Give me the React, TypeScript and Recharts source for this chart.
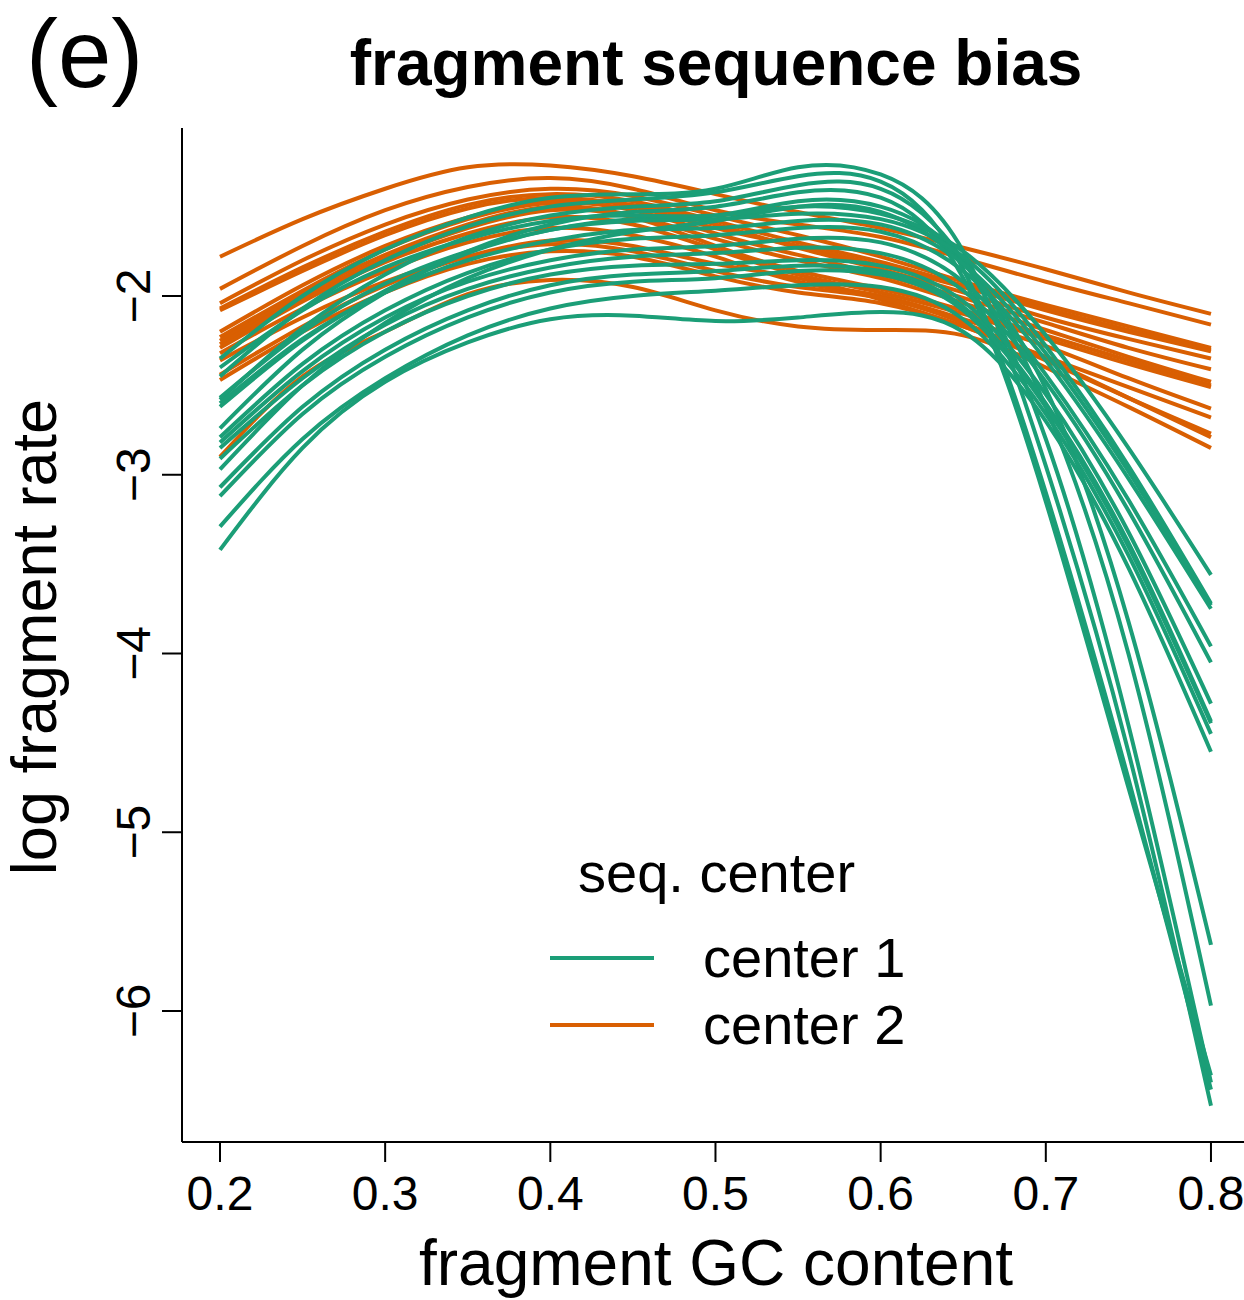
import { Line, LineChart, XAxis, YAxis } from "recharts";

const gcContent = [0.2, 0.25, 0.3, 0.35, 0.4, 0.45, 0.5, 0.55, 0.6, 0.65, 0.7, 0.75, 0.8];
const xTicks = [0.2, 0.3, 0.4, 0.5, 0.6, 0.7, 0.8];
const yTicks = [-6, -5, -4, -3, -2];

const centerNames = ["center 1", "center 2"];
const centerColors = ["#1b9e77", "#d95f02"];

// center 1: log fragment rate per sample, read at gcContent
const center1Curves = [
  [-2.35, -2.0, -1.74, -1.56, -1.45, -1.43, -1.4, -1.28, -1.32, -1.75, -2.95, -4.55, -6.53],
  [-2.45, -2.07, -1.8, -1.61, -1.5, -1.46, -1.42, -1.33, -1.36, -1.85, -3.1, -4.7, -6.44],
  [-2.58, -2.18, -1.88, -1.67, -1.55, -1.5, -1.47, -1.38, -1.4, -1.8, -2.8, -4.4, -6.4],
  [-2.74, -2.3, -1.98, -1.75, -1.6, -1.53, -1.5, -1.42, -1.45, -1.9, -3.15, -4.75, -6.36],
  [-2.62, -2.25, -1.97, -1.76, -1.63, -1.57, -1.55, -1.47, -1.5, -1.8, -2.62, -4.0, -5.97],
  [-2.97, -2.5, -2.15, -1.9, -1.74, -1.64, -1.58, -1.5, -1.53, -1.82, -2.52, -3.82, -5.63],
  [-2.4, -2.08, -1.84, -1.68, -1.58, -1.55, -1.55, -1.5, -1.54, -1.75, -2.22, -2.85, -3.56],
  [-2.57, -2.2, -1.93, -1.75, -1.63, -1.58, -1.57, -1.54, -1.57, -1.78, -2.28, -2.95, -3.72],
  [-2.6, -2.24, -1.98, -1.8, -1.69, -1.63, -1.62, -1.58, -1.6, -1.82, -2.32, -2.98, -3.73],
  [-2.79, -2.38, -2.08, -1.87, -1.74, -1.68, -1.66, -1.62, -1.64, -1.86, -2.36, -3.02, -3.75],
  [-2.82, -2.42, -2.12, -1.92, -1.8, -1.74, -1.72, -1.68, -1.7, -1.92, -2.44, -3.14, -3.96],
  [-2.85, -2.46, -2.16, -1.96, -1.84, -1.78, -1.76, -1.73, -1.76, -1.97, -2.48, -3.2, -4.05],
  [-2.91, -2.5, -2.2, -2.0, -1.88, -1.83, -1.82, -1.8, -1.83, -2.03, -2.55, -3.32, -4.28],
  [-3.07, -2.62, -2.3, -2.08, -1.94, -1.88, -1.86, -1.83, -1.86, -2.06, -2.6, -3.38, -4.38],
  [-3.12, -2.66, -2.34, -2.12, -1.98, -1.92, -1.9, -1.86, -1.88, -2.08, -2.62, -3.4, -4.39],
  [-3.29, -2.8, -2.46, -2.22, -2.07, -2.0, -1.97, -1.94, -1.95, -2.13, -2.66, -3.45, -4.45],
  [-3.42, -2.85, -2.48, -2.26, -2.13, -2.11, -2.14, -2.12, -2.09, -2.2, -2.7, -3.52, -4.55],
];

// center 2
const center2Curves = [
  [-1.78, -1.57, -1.4, -1.28, -1.27, -1.33, -1.43, -1.53, -1.62, -1.73, -1.85, -1.98, -2.1],
  [-1.96, -1.72, -1.52, -1.39, -1.34, -1.4, -1.52, -1.6, -1.67, -1.79, -1.92, -2.04, -2.16],
  [-2.04, -1.8, -1.6, -1.46, -1.4, -1.44, -1.55, -1.66, -1.78, -1.92, -2.05, -2.17, -2.29],
  [-2.07, -1.84, -1.64, -1.49, -1.43, -1.47, -1.58, -1.7, -1.81, -1.94, -2.07, -2.19, -2.3],
  [-2.08, -1.86, -1.66, -1.51, -1.45, -1.5, -1.62, -1.72, -1.83, -1.95, -2.08, -2.2, -2.31],
  [-2.2, -1.94, -1.72, -1.56, -1.47, -1.49, -1.6, -1.73, -1.85, -1.98, -2.12, -2.24, -2.35],
  [-2.23, -1.97, -1.74, -1.57, -1.48, -1.52, -1.65, -1.77, -1.88, -2.01, -2.15, -2.29, -2.41],
  [-2.25, -1.99, -1.77, -1.6, -1.5, -1.55, -1.68, -1.8, -1.9, -2.04, -2.19, -2.34, -2.48],
  [-2.27, -2.01, -1.79, -1.62, -1.52, -1.56, -1.72, -1.86, -1.96, -2.08, -2.22, -2.36, -2.5],
  [-2.29, -2.03, -1.81, -1.65, -1.56, -1.6, -1.74, -1.88, -1.98, -2.1, -2.24, -2.38, -2.51],
  [-2.32, -2.07, -1.86, -1.7, -1.62, -1.66, -1.78, -1.92, -2.0, -2.13, -2.28, -2.46, -2.63],
  [-2.44, -2.17, -1.94, -1.78, -1.69, -1.72, -1.82, -1.9, -2.02, -2.17, -2.34, -2.51, -2.68],
  [-2.47, -2.2, -1.98, -1.82, -1.75, -1.78, -1.89, -1.98, -2.04, -2.17, -2.36, -2.57, -2.77],
  [-2.36, -2.12, -1.92, -1.78, -1.71, -1.75, -1.86, -1.95, -2.01, -2.15, -2.35, -2.57, -2.79],
  [-2.9, -2.45, -2.2, -1.99, -1.91, -1.95, -2.08, -2.17, -2.19, -2.22, -2.4, -2.62, -2.85],
];

const font = "'Liberation Sans', Arial, Helvetica, sans-serif";

const rows = gcContent.map((gc, i) => {
  const row: Record<string, number> = { gc };
  center1Curves.forEach((c, j) => (row[`c1_${j}`] = c[i]));
  center2Curves.forEach((c, j) => (row[`c2_${j}`] = c[i]));
  return row;
});

const minus = (v: number) => String(v).replace("-", "\u2212");

function XTick({ x, y, payload }: any) {
  return (
    <text x={x} y={y + 46} textAnchor="middle" fontSize={48} fontFamily={font} fill="#000">
      {payload.value}
    </text>
  );
}

function YTick({ x, y, payload }: any) {
  const bx = x - 10;
  return (
    <text x={bx} y={y} transform={`rotate(-90, ${bx}, ${y})`} textAnchor="middle" fontSize={48} fontFamily={font} fill="#000">
      {minus(payload.value)}
    </text>
  );
}

export default function App() {
  return (
    <div style={{ position: "absolute", left: 0, top: 0, width: 1244, height: 1300, background: "#fff", fontFamily: font }}>
      <LineChart width={1244} height={1300} data={rows} margin={{ top: 128, right: 0, bottom: 98, left: 122 }}>
        <XAxis
          dataKey="gc"
          type="number"
          domain={[0.177, 0.82]}
          ticks={xTicks}
          allowDataOverflow
          height={60}
          tickSize={20}
          tick={<XTick />}
          axisLine={{ stroke: "#000", strokeWidth: 2 }}
          tickLine={{ stroke: "#000", strokeWidth: 2 }}
        />
        <YAxis
          type="number"
          domain={[-6.733, -1.06]}
          ticks={yTicks}
          allowDataOverflow
          width={60}
          tickSize={20}
          tick={<YTick />}
          axisLine={{ stroke: "#000", strokeWidth: 2 }}
          tickLine={{ stroke: "#000", strokeWidth: 2 }}
        />
        {center2Curves.map((_, j) => (
          <Line key={`c2_${j}`} dataKey={`c2_${j}`} type="natural" stroke={centerColors[1]} strokeWidth={4} dot={false} isAnimationActive={false} />
        ))}
        {center1Curves.map((_, j) => (
          <Line key={`c1_${j}`} dataKey={`c1_${j}`} type="natural" stroke={centerColors[0]} strokeWidth={4} dot={false} isAnimationActive={false} />
        ))}
      </LineChart>
      <svg width={1244} height={1300} style={{ position: "absolute", left: 0, top: 0, pointerEvents: "none" }}>
        <text x={26} y={87} fontSize={96} fontFamily={font} fill="#000">(e)</text>
        <text x={716} y={85} fontSize={64} fontWeight="bold" fontFamily={font} textAnchor="middle" fill="#000">
          fragment sequence bias
        </text>
        <text x={716} y={1285} fontSize={64} fontFamily={font} textAnchor="middle" fill="#000">
          fragment GC content
        </text>
        <text x={56} y={637} fontSize={63} fontFamily={font} textAnchor="middle" transform="rotate(-90, 56, 637)" fill="#000">
          log fragment rate
        </text>
        <text x={578} y={892} fontSize={56} fontFamily={font} fill="#000">seq. center</text>
        {centerNames.map((name, i) => (
          <g key={name}>
            <line x1={550} x2={654} y1={958 + i * 67} y2={958 + i * 67} stroke={centerColors[i]} strokeWidth={4} />
            <text x={703} y={977 + i * 67} fontSize={56} fontFamily={font} fill="#000">{name}</text>
          </g>
        ))}
      </svg>
    </div>
  );
}
